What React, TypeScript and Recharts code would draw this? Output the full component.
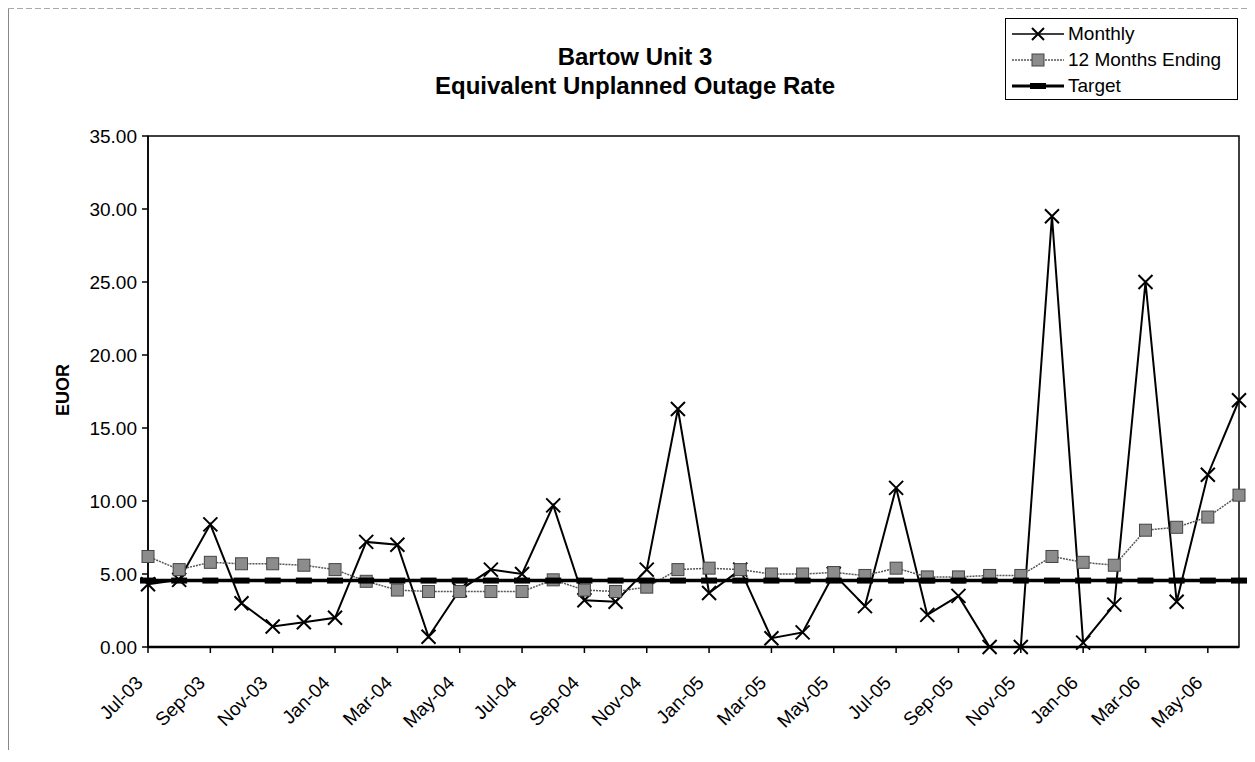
import React from 'react';
import {
  LineChart, Line, XAxis, YAxis, ReferenceArea, Label
} from 'recharts';

const months = [
  'Jul-03', 'Aug-03', 'Sep-03', 'Oct-03', 'Nov-03', 'Dec-03',
  'Jan-04', 'Feb-04', 'Mar-04', 'Apr-04', 'May-04', 'Jun-04',
  'Jul-04', 'Aug-04', 'Sep-04', 'Oct-04', 'Nov-04', 'Dec-04',
  'Jan-05', 'Feb-05', 'Mar-05', 'Apr-05', 'May-05', 'Jun-05',
  'Jul-05', 'Aug-05', 'Sep-05', 'Oct-05', 'Nov-05', 'Dec-05',
  'Jan-06', 'Feb-06', 'Mar-06', 'Apr-06', 'May-06', 'Jun-06'
];

const monthly = [
  4.3, 4.6, 8.4, 3.0, 1.4, 1.7,
  2.0, 7.2, 7.0, 0.7, 3.9, 5.3,
  5.0, 9.7, 3.2, 3.1, 5.3, 16.3,
  3.7, 5.3, 0.6, 1.0, 5.0, 2.8,
  10.9, 2.2, 3.5, 0.0, 0.0, 29.5,
  0.3, 2.9, 25.0, 3.1, 11.8, 16.9
];

const twelveMonthsEnding = [
  6.2, 5.3, 5.8, 5.7, 5.7, 5.6,
  5.3, 4.5, 3.9, 3.8, 3.8, 3.8,
  3.8, 4.6, 3.9, 3.8, 4.1, 5.3,
  5.4, 5.3, 5.0, 5.0, 5.1, 4.9,
  5.4, 4.8, 4.8, 4.9, 4.9, 6.2,
  5.8, 5.6, 8.0, 8.2, 8.9, 10.4
];

const targetValue = 4.55;

const yTicks = [0, 5, 10, 15, 20, 25, 30, 35];

const data = months.map((m, i) => ({
  month: m,
  monthly: monthly[i],
  twelve: twelveMonthsEnding[i],
  target: targetValue
}));

const FONT = '"Liberation Sans", Arial, sans-serif';

const XDot = (props: any) => {
  const { cx, cy, index } = props;
  if (cx == null || cy == null) return <g key={`x-${index}`} />;
  return (
    <path
      key={`x-${index}`}
      d={`M${cx - 7},${cy - 7}L${cx + 7},${cy + 7}M${cx - 7},${cy + 7}L${cx + 7},${cy - 7}`}
      stroke="#000"
      strokeWidth={2}
      fill="none"
    />
  );
};

const SquareDot = (props: any) => {
  const { cx, cy, index } = props;
  if (cx == null || cy == null) return <g key={`s-${index}`} />;
  return (
    <rect
      key={`s-${index}`}
      x={cx - 6}
      y={cy - 6}
      width={12}
      height={12}
      fill="#8c8c8c"
      stroke="#444"
      strokeWidth={1}
    />
  );
};

const TargetDot = (props: any) => {
  const { cx, cy, index } = props;
  if (cx == null || cy == null) return <g key={`t-${index}`} />;
  return <rect key={`t-${index}`} x={cx - 8} y={cy - 3} width={16} height={6} fill="#000" />;
};

const XTick = (props: any) => {
  const { x, y, payload } = props;
  const ax = x - 4;
  const ay = y + 29;
  return (
    <text
      x={ax}
      y={ay}
      transform={`rotate(-45 ${ax} ${ay})`}
      textAnchor="end"
      fontSize={19}
      fontFamily={FONT}
      fill="#000"
    >
      {payload.value}
    </text>
  );
};

const legendItems = [
  { label: 'Monthly', kind: 'x' },
  { label: '12 Months Ending', kind: 'sq' },
  { label: 'Target', kind: 't' }
];

const ChartLegend = () => (
  <div
    style={{
      position: 'absolute',
      left: 997,
      top: 10,
      border: '1px solid #000',
      background: '#fff',
      width: 233,
      height: 82,
      boxSizing: 'border-box',
      paddingTop: 2
    }}
  >
    {legendItems.map(item => (
      <div key={item.label} style={{ display: 'flex', alignItems: 'center', height: 26 }}>
        <svg width={62} height={26} style={{ display: 'block' }}>
          {item.kind === 'x' && (
            <g>
              <line x1={6} y1={13} x2={58} y2={13} stroke="#000" strokeWidth={1.5} />
              <path d="M26,7L38,19M26,19L38,7" stroke="#000" strokeWidth={2} />
            </g>
          )}
          {item.kind === 'sq' && (
            <g>
              <line x1={6} y1={13} x2={58} y2={13} stroke="#555" strokeWidth={1.5} strokeDasharray="2 1" />
              <rect x={26} y={7} width={12} height={12} fill="#8c8c8c" stroke="#444" />
            </g>
          )}
          {item.kind === 't' && (
            <g>
              <line x1={6} y1={13} x2={58} y2={13} stroke="#000" strokeWidth={3} />
              <rect x={24} y={10} width={16} height={6} fill="#000" />
            </g>
          )}
        </svg>
        <span style={{ fontFamily: FONT, fontSize: 19, color: '#000', lineHeight: '26px' }}>
          {item.label}
        </span>
      </div>
    ))}
  </div>
);

export default function App() {
  return (
    <div style={{ position: 'relative', width: 1247, height: 754, background: '#fff' }}>
      <div
        style={{
          position: 'absolute',
          left: 0,
          top: 34,
          width: 1254,
          textAlign: 'center',
          fontFamily: FONT,
          fontWeight: 'bold',
          fontSize: 24,
          lineHeight: '29px',
          color: '#000'
        }}
      >
        <div>Bartow Unit 3</div>
        <div>Equivalent Unplanned Outage Rate</div>
      </div>
      <LineChart
        width={1247}
        height={754}
        data={data}
        margin={{ top: 128, right: 16, left: 10, bottom: 15 }}
      >
        <ReferenceArea
          x1="Jul-03"
          x2="Jun-06"
          y1={0}
          y2={35}
          fill="none"
          stroke="#000"
          strokeWidth={1.5}
        />
        <XAxis
          dataKey="month"
          interval={1}
          height={100}
          tickSize={6}
          tick={<XTick />}
          axisLine={{ stroke: '#000', strokeWidth: 2.5 }}
          tickLine={{ stroke: '#000', strokeWidth: 1.5 }}
        />
        <YAxis
          domain={[0, 35]}
          ticks={yTicks}
          width={130}
          tickSize={6}
          tickMargin={5}
          tickFormatter={(v: number) => v.toFixed(2)}
          tick={{ fontSize: 19, fontFamily: FONT, fill: '#000' }}
          axisLine={{ stroke: '#000', strokeWidth: 1.5 }}
          tickLine={{ stroke: '#000', strokeWidth: 1.5 }}
        >
          <Label
            content={() => (
              <text
                x={61}
                y={382}
                transform="rotate(-90 61 382)"
                textAnchor="middle"
                fontSize={18}
                fontWeight="bold"
                fontFamily={FONT}
                fill="#000"
              >
                EUOR
              </text>
            )}
          />
        </YAxis>
        <Line
          type="linear"
          dataKey="monthly"
          name="Monthly"
          stroke="#000"
          strokeWidth={2}
          dot={XDot}
          activeDot={false}
          isAnimationActive={false}
        />
        <Line
          type="linear"
          dataKey="twelve"
          name="12 Months Ending"
          stroke="#555"
          strokeWidth={1.5}
          strokeDasharray="2 1"
          dot={SquareDot}
          activeDot={false}
          isAnimationActive={false}
        />
        <Line
          type="linear"
          dataKey="target"
          name="Target"
          stroke="#000"
          strokeWidth={3.5}
          dot={TargetDot}
          activeDot={false}
          isAnimationActive={false}
        />
      </LineChart>
      <ChartLegend />
      <svg
        width={1247}
        height={754}
        style={{ position: 'absolute', left: 0, top: 0, pointerEvents: 'none' }}
      >
        <line x1={0.5} y1={0} x2={0.5} y2={742} stroke="#888" strokeWidth={1} />
        <line x1={0} y1={0.5} x2={1246} y2={0.5} stroke="#aaa" strokeWidth={1} strokeDasharray="6 3" />
        <line x1={1243.5} y1={540} x2={1243.5} y2={620} stroke="#888" strokeWidth={1} />
      </svg>
    </div>
  );
}
